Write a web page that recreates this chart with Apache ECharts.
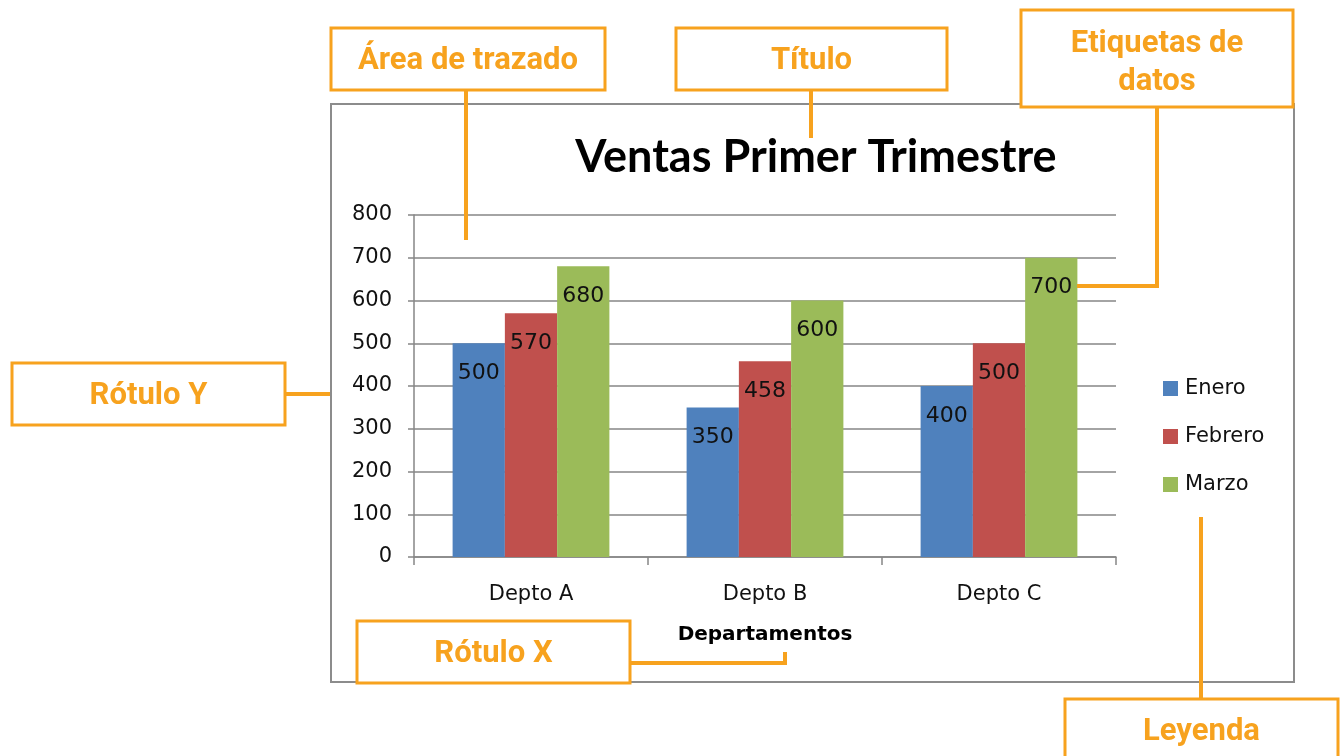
<!DOCTYPE html>
<html><head><meta charset="utf-8">
<script src="https://cdn.jsdelivr.net/npm/echarts@6/dist/echarts.min.js"></script>
<style>html,body{margin:0;padding:0;background:#fff}#c{width:1340px;height:756px}</style>
</head><body><div id="c"></div>
<script>
const categories = ['Depto A', 'Depto B', 'Depto C'];
const enero = [500, 350, 400];
const febrero = [570, 458, 500];
const marzo = [680, 600, 700];
const seriesNames = ['Enero', 'Febrero', 'Marzo'];
const yTicks = { min: 0, max: 800, interval: 100 };

const ORANGE = '#F7A21E';
const annFont = "Roboto,'Noto Sans',sans-serif";
function box(x, y, w, h, text, lh, dy) {
  return [
    { type: 'rect', shape: { x: x, y: y, width: w, height: h }, style: { fill: '#fff', stroke: ORANGE, lineWidth: 3 }, z: 100 },
    { type: 'text', x: x + w / 2, y: y + h / 2 + (dy || 2), style: { text: text, fill: ORANGE, font: 'bold 31px ' + annFont, textAlign: 'center', textVerticalAlign: 'middle', lineHeight: lh || 36 }, z: 101 }
  ];
}
function line(points) {
  return { type: 'polyline', shape: { points: points }, style: { stroke: ORANGE, lineWidth: 4, fill: null }, z: 99 };
}

const chart = echarts.init(document.getElementById('c'), null, { renderer: 'canvas' });
const axisGray = '#868686';
const txtFont = "'DejaVu Sans',sans-serif";
const labelStyle = { show: true, position: 'insideTop', distance: 19, fontSize: 22, color: '#111', fontFamily: txtFont };
chart.setOption({
  animation: false,
  backgroundColor: '#fff',
  title: {
    text: 'Ventas Primer Trimestre', left: 811, top: 130, textAlign: 'center',
    textStyle: { fontSize: 45, fontWeight: 'bold', color: '#000', fontFamily: "Lato,'Open Sans',sans-serif" }
  },
  legend: {
    orient: 'vertical', left: 1158, top: 373, itemWidth: 15, itemHeight: 15, itemGap: 27,
    icon: 'rect', textStyle: { fontSize: 21, color: '#111', fontFamily: txtFont, padding: [0,0,0,2] },
    data: seriesNames
  },
  grid: { left: 414, right: 224, top: 215, bottom: 199, containLabel: false },
  xAxis: {
    type: 'category', data: categories,
    axisLine: { lineStyle: { color: axisGray, width: 1.5 } },
    axisTick: { show: true, length: 8, lineStyle: { color: axisGray, width: 1.5 } },
    axisLabel: { fontSize: 21, color: '#111', margin: 27, fontFamily: txtFont },
    name: 'Departamentos', nameLocation: 'middle', nameGap: 68,
    nameTextStyle: { fontSize: 20, fontWeight: 'bold', color: '#000', fontFamily: txtFont }
  },
  yAxis: {
    type: 'value', min: yTicks.min, max: yTicks.max, interval: yTicks.interval,
    axisLine: { show: true, lineStyle: { color: axisGray, width: 1.5 } },
    axisTick: { show: true, length: 6, lineStyle: { color: axisGray, width: 1.5 } },
    axisLabel: { fontSize: 21, color: '#111', margin: 22, fontFamily: txtFont },
    splitLine: { lineStyle: { color: axisGray, width: 1.5 } }
  },
  series: [
    { name: seriesNames[0], type: 'bar', data: enero, barGap: '0%', barCategoryGap: '33%', itemStyle: { color: '#4F81BD' }, label: labelStyle },
    { name: seriesNames[1], type: 'bar', data: febrero, barGap: '0%', barCategoryGap: '33%', itemStyle: { color: '#C0504D' }, label: labelStyle },
    { name: seriesNames[2], type: 'bar', data: marzo, barGap: '0%', barCategoryGap: '33%', itemStyle: { color: '#9BBB59' }, label: labelStyle }
  ],
  graphic: [
    { type: 'rect', shape: { x: 331, y: 104, width: 963, height: 578 }, style: { fill: null, stroke: '#8c8c8c', lineWidth: 2 }, z: 50, silent: true },
    line([[466, 90], [466, 240]]),
    line([[811, 90], [811, 138]]),
    line([[1157, 107], [1157, 286], [1077, 286]]),
    line([[285, 394], [330, 394]]),
    line([[630, 663], [785, 663], [785, 652]]),
    line([[1201, 698], [1201, 517]]),
    ...box(331, 28, 274, 62, 'Área de trazado'),
    ...box(676, 28, 271, 62, 'Título'),
    ...box(1021, 10, 272, 97, 'Etiquetas de\ndatos', 38, 5),
    ...box(12, 363, 273, 62, 'Rótulo Y'),
    ...box(357, 621, 273, 62, 'Rótulo X'),
    ...box(1065, 699, 273, 62, 'Leyenda')
  ]
});
</script></body></html>
